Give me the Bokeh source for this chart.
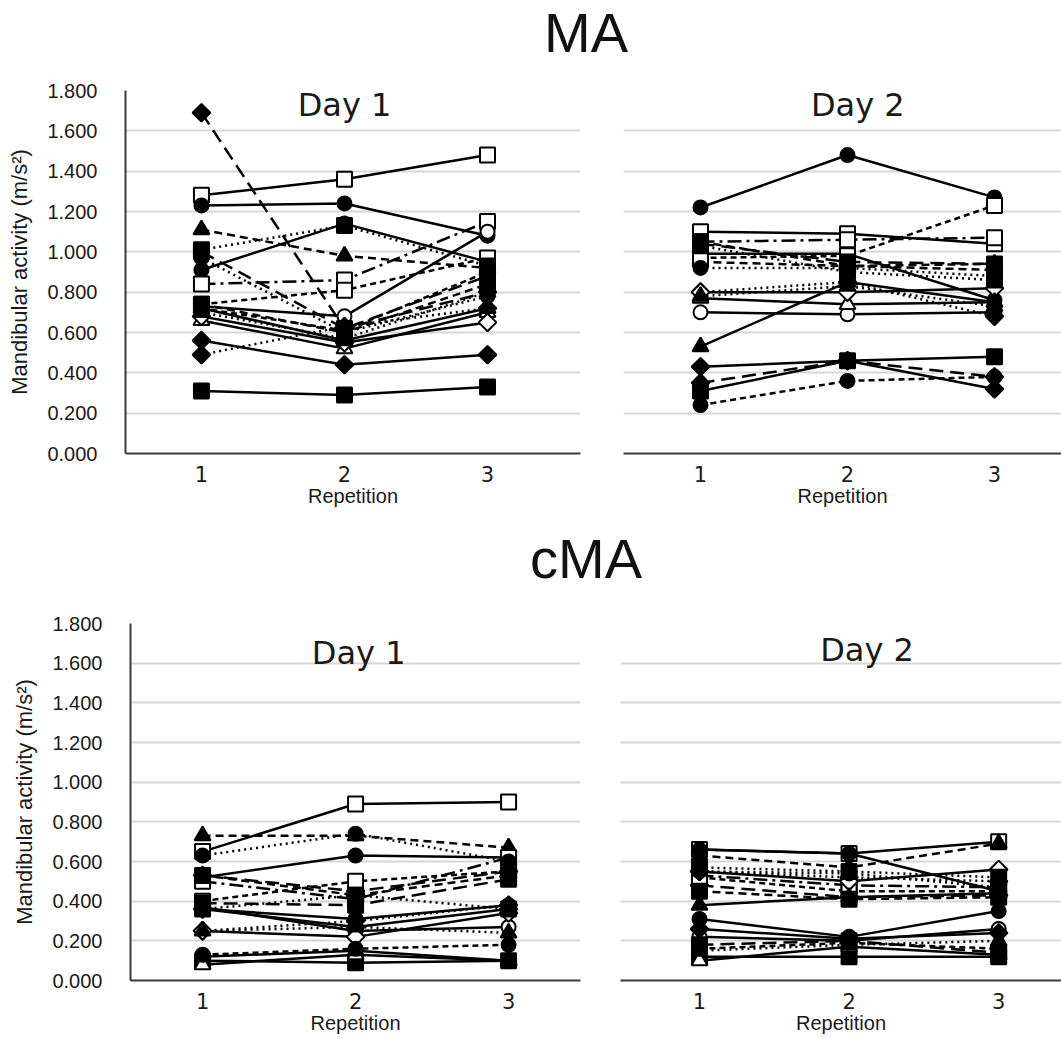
import math
from bokeh.plotting import figure
from bokeh.models import Range1d, FixedTicker, NumeralTickFormatter, Label, Div
from bokeh.layouts import column, row
from bokeh.embed import file_html
from bokeh.resources import INLINE

# ---------------- data ----------------
REPETITION = [1, 2, 3]
Y_TICKS = [0.0, 0.2, 0.4, 0.6, 0.8, 1.0, 1.2, 1.4, 1.6, 1.8]

# style per subject (kept separate from the values)
MARKERS = ["square", "circle", "circle", "triangle", "diamond", "square", "square",
           "circle", "diamond", "diamond", "square", "triangle", "diamond", "square",
           "square", "circle", "triangle", "circle", "square", "triangle"]
FILLED = [False, True, True, True, True, False, False,
          False, True, True, True, False, False, True,
          True, True, True, True, True, True]
DASHES = ["solid", "solid", "solid", "8 5", "14 7", "14 5 3 5", "6 4",
          "solid", "solid", "2 4", "solid", "solid", "solid", "2 4",
          "8 5", "6 4", "solid", "2 4", "14 7", "2 4"]

MA_DAY1 = [
    [1.28, 1.36, 1.48], [1.23, 1.24, 1.08], [0.91, 1.14, 0.95], [1.11, 0.98, 0.92],
    [1.69, 0.62, 0.80], [0.84, 0.86, 1.15], [0.74, 0.81, 0.97], [0.73, 0.68, 1.10],
    [0.56, 0.44, 0.49], [0.49, 0.63, 0.72], [0.31, 0.29, 0.33], [0.66, 0.52, 0.70],
    [0.68, 0.55, 0.65], [1.01, 1.13, 0.93], [0.74, 0.60, 0.84], [0.72, 0.61, 0.90],
    [0.72, 0.56, 0.72], [0.97, 0.60, 0.78], [1.00, 0.62, 0.88], [0.70, 0.57, 0.80],
]
MA_DAY2 = [
    [1.10, 1.09, 1.04], [1.22, 1.48, 1.27], [0.99, 0.99, 0.76], [0.95, 0.93, 0.94],
    [0.35, 0.46, 0.38], [1.05, 1.06, 1.07], [0.97, 0.98, 1.23], [0.70, 0.69, 0.70],
    [0.43, 0.46, 0.32], [0.80, 0.85, 0.68], [0.31, 0.46, 0.48], [0.77, 0.74, 0.75],
    [0.80, 0.80, 0.82], [1.03, 0.90, 0.86], [1.05, 0.93, 0.91], [0.24, 0.36, 0.38],
    [0.53, 0.85, 0.75], [0.92, 0.92, 0.88], [1.04, 0.95, 0.94], [0.78, 0.83, 0.73],
]
CMA_DAY1 = [
    [0.65, 0.89, 0.90], [0.52, 0.63, 0.62], [0.36, 0.31, 0.38], [0.73, 0.73, 0.67],
    [0.53, 0.45, 0.55], [0.50, 0.41, 0.62], [0.40, 0.50, 0.55], [0.37, 0.25, 0.27],
    [0.36, 0.27, 0.36], [0.25, 0.30, 0.38], [0.10, 0.09, 0.10], [0.08, 0.13, 0.10],
    [0.25, 0.22, 0.34], [0.36, 0.43, 0.36], [0.53, 0.43, 0.53], [0.13, 0.16, 0.18],
    [0.12, 0.15, 0.10], [0.63, 0.74, 0.60], [0.39, 0.38, 0.51], [0.25, 0.27, 0.24],
]
CMA_DAY2 = [
    [0.66, 0.64, 0.70], [0.66, 0.64, 0.45], [0.31, 0.22, 0.35], [0.63, 0.57, 0.69],
    [0.48, 0.42, 0.43], [0.53, 0.48, 0.47], [0.52, 0.45, 0.45], [0.22, 0.20, 0.26],
    [0.26, 0.21, 0.24], [0.55, 0.52, 0.50], [0.12, 0.12, 0.12], [0.10, 0.17, 0.13],
    [0.55, 0.50, 0.56], [0.57, 0.55, 0.52], [0.45, 0.41, 0.42], [0.16, 0.19, 0.16],
    [0.38, 0.42, 0.44], [0.55, 0.54, 0.47], [0.18, 0.20, 0.14], [0.15, 0.18, 0.20],
]

Y_LABEL = "Mandibular activity (m/s²)"
X_LABEL = "Repetition"

# marker drawing: (bokeh marker, size, rotation)
MARKER_DRAW = {
    "square": ("square", 15, 0.0),
    "circle": ("circle", 14, 0.0),
    "triangle": ("triangle", 16, 0.0),
    "diamond": ("square", 12.5, math.pi / 4),
}


def make_panel(values, width, height, b_left, b_right, b_top, b_bottom,
               x_start, x_end, show_y, day_text, day_x, day_y):
    p = figure(width=width, height=height,
               x_range=Range1d(x_start, x_end), y_range=Range1d(0, 1.8),
               output_backend="svg", toolbar_location=None,
               min_border_left=b_left, min_border_right=b_right,
               min_border_top=b_top, min_border_bottom=b_bottom)
    p.outline_line_color = None
    p.background_fill_color = "white"
    p.border_fill_color = "white"
    p.xgrid.visible = False
    p.ygrid.ticker = FixedTicker(ticks=Y_TICKS)
    p.ygrid.grid_line_color = "#d6d6d6"
    p.ygrid.grid_line_width = 2

    xa = p.xaxis[0]
    xa.ticker = FixedTicker(ticks=REPETITION)
    xa.axis_label = X_LABEL
    xa.axis_label_text_font = "Liberation Sans"
    xa.axis_label_text_font_size = "20px"
    xa.axis_label_text_font_style = "normal"
    xa.axis_label_text_color = "#1a1a1a"
    xa.axis_label_standoff = 0
    xa.major_label_text_font = "DejaVu Sans"
    xa.major_label_text_font_size = "21px"
    xa.major_label_text_color = "#1a1a1a"
    xa.major_label_standoff = 6
    xa.major_tick_line_color = None
    xa.minor_tick_line_color = None
    xa.axis_line_color = "#3a3a3a"
    xa.axis_line_width = 2

    ya = p.yaxis[0]
    ya.ticker = FixedTicker(ticks=Y_TICKS)
    if show_y:
        ya.formatter = NumeralTickFormatter(format="0.000")
        ya.axis_label = Y_LABEL
        ya.axis_label_text_font = "Liberation Sans"
        ya.axis_label_text_font_size = "22px"
        ya.axis_label_text_font_style = "normal"
        ya.axis_label_text_color = "#1a1a1a"
        ya.axis_label_standoff = 12
        ya.major_label_text_font = "Liberation Sans"
        ya.major_label_text_font_size = "20px"
        ya.major_label_text_color = "#1a1a1a"
        ya.major_label_standoff = 22
        ya.major_tick_line_color = None
        ya.minor_tick_line_color = None
        ya.axis_line_color = "#3a3a3a"
        ya.axis_line_width = 2
    else:
        ya.visible = False

    for i, vals in enumerate(values):
        p.line(REPETITION, vals, line_color="black", line_width=2.5,
               line_dash=DASHES[i])
    for i, vals in enumerate(values):
        mk, sz, ang = MARKER_DRAW[MARKERS[i]]
        p.scatter(REPETITION, vals, marker=mk, size=sz, angle=ang,
                  fill_color="black" if FILLED[i] else "white",
                  line_color="black", line_width=2)

    p.add_layout(Label(x=day_x, y=day_y, text=day_text, text_font="DejaVu Sans",
                       text_font_size="32px", text_color="#1a1a1a",
                       text_align="center", text_baseline="middle"))
    return p


def title_div(text, height, line_height):
    html = ('<div style="width:1061px;box-sizing:border-box;padding-left:111px;'
            'text-align:center;font-family:\'Liberation Sans\',Arial,sans-serif;'
            f'font-size:56px;line-height:{line_height}px;color:#111;">{text}</div>')
    return Div(text=html, width=1061, height=height, margin=(0, 0, 0, 0))


ma1 = make_panel(MA_DAY1, 600, 462, 125, 20, 30, 69, 0.469, 3.65, True, "Day 1", 2.0, 1.73)
ma2 = make_panel(MA_DAY2, 461, 462, 23, 0, 30, 69, 0.476, 3.456, False, "Day 2", 2.07, 1.73)
cma1 = make_panel(CMA_DAY1, 600, 439, 130, 20, 23, 59, 0.529, 3.47, True, "Day 1", 2.02, 1.65)
cma2 = make_panel(CMA_DAY2, 461, 439, 20, 0, 23, 59, 0.472, 3.42, False, "Day 2", 2.12, 1.665)

layout = column(
    title_div("MA", 60, 65),
    row(ma1, ma2, spacing=0),
    title_div("cMA", 78, 73),
    row(cma1, cma2, spacing=0),
    spacing=0,
)

open("out.html", "w").write(file_html(layout, INLINE))
